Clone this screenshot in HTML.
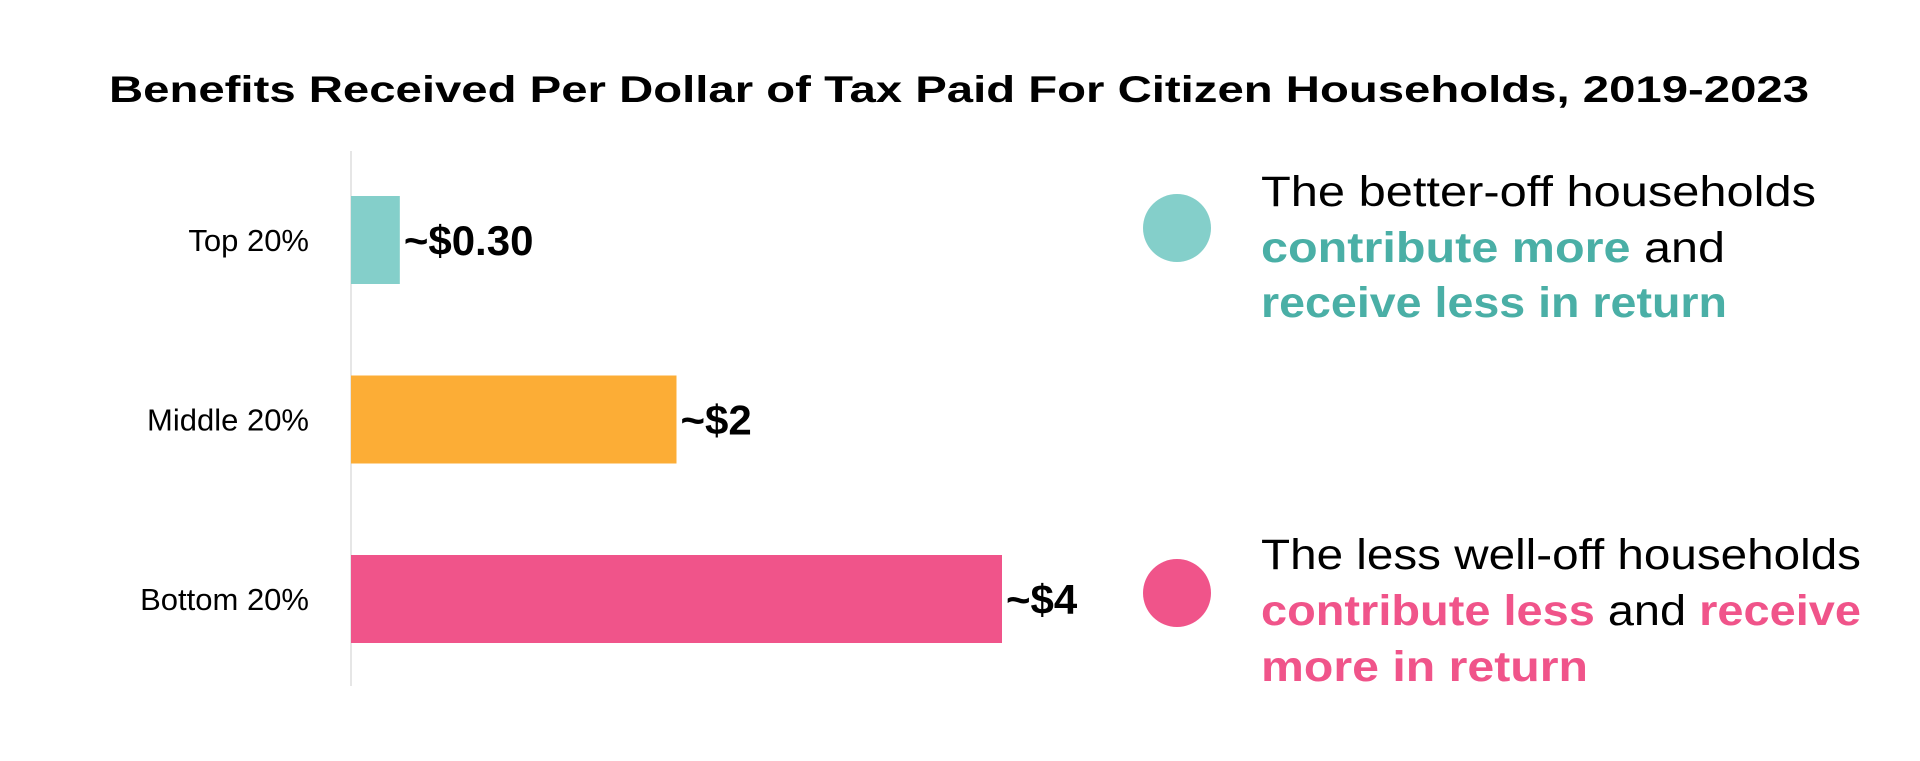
<!DOCTYPE html>
<html><head><meta charset="utf-8"><style>
html,body{margin:0;padding:0;background:#fff;}
svg{display:block;font-family:"Liberation Sans",sans-serif;}
</style></head><body>
<svg id="chart" width="1920" height="761" viewBox="0 0 1920 761">
<text x="959" y="102" text-anchor="middle" font-size="37" font-weight="bold" fill="#000" textLength="1700" lengthAdjust="spacingAndGlyphs">Benefits Received Per Dollar of Tax Paid For Citizen Households, 2019-2023</text>
<line x1="351" y1="151" x2="351" y2="686" stroke="#ddd" stroke-width="1.5"/>
<g id="bars"></g>
<circle cx="1177" cy="228" r="34" fill="#84CFCA"/>
<circle cx="1177" cy="593" r="34" fill="#F0548A"/>
<g font-size="43" fill="#000">
<text x="1261" y="206" textLength="555" lengthAdjust="spacingAndGlyphs">The better-off households</text>
<text x="1261" y="262" textLength="464" lengthAdjust="spacingAndGlyphs"><tspan fill="#4AAFA6" font-weight="bold">contribute more</tspan> and</text>
<text x="1261" y="317" fill="#4AAFA6" font-weight="bold" textLength="466" lengthAdjust="spacingAndGlyphs">receive less in return</text>
</g>
<g font-size="43" fill="#000">
<text x="1261" y="569" textLength="600" lengthAdjust="spacingAndGlyphs">The less well-off households</text>
<text x="1261" y="625" textLength="600" lengthAdjust="spacingAndGlyphs"><tspan fill="#F0548A" font-weight="bold">contribute less</tspan> and <tspan fill="#F0548A" font-weight="bold">receive</tspan></text>
<text x="1261" y="681" fill="#F0548A" font-weight="bold" textLength="327" lengthAdjust="spacingAndGlyphs">more in return</text>
</g>
</svg>
<script>
const categories = ["Top 20%", "Middle 20%", "Bottom 20%"];
const values = [0.30, 2, 4];
const valueLabels = ["~$0.30", "~$2", "~$4"];
const colors = ["#84CFCA", "#FCAD36", "#F0548A"];
const NS = "http://www.w3.org/2000/svg";
const x0 = 351, pxPerUnit = 162.75;
function xScale(v){ return x0 + v * pxPerUnit; }
function yBand(i){ return 196 + i * 179.5; }
const bandH = 88;
const g = document.getElementById('bars');
categories.forEach((c, i) => {
  const y = yBand(i);
  const r = document.createElementNS(NS, 'rect');
  r.setAttribute('x', x0); r.setAttribute('y', y);
  r.setAttribute('width', xScale(values[i]) - x0); r.setAttribute('height', bandH);
  r.setAttribute('fill', colors[i]);
  
  
  g.appendChild(r);
  const t = document.createElementNS(NS, 'text');
  t.setAttribute('x', 309); t.setAttribute('y', y + bandH/2 + 11);
  t.setAttribute('text-anchor', 'end'); t.setAttribute('font-size', '31');
  t.textContent = c;
  
  
  g.appendChild(t);
  const v = document.createElementNS(NS, 'text');
  v.setAttribute('x', xScale(values[i]) + 4); v.setAttribute('y', y + bandH/2 + 15);
  v.setAttribute('font-size', '42'); v.setAttribute('font-weight', 'bold');
  v.textContent = valueLabels[i];
  
  
  g.appendChild(v);
});
</script>
</body></html>
